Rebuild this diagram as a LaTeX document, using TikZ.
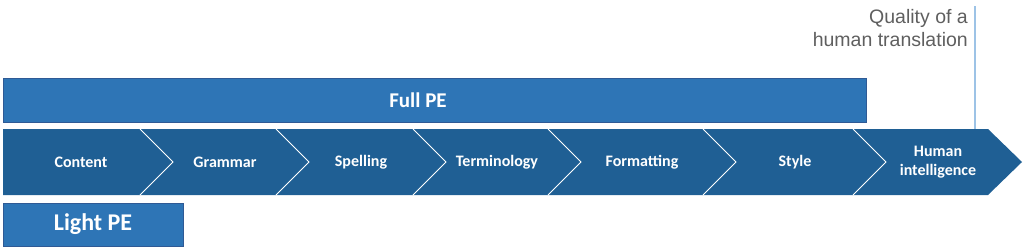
\documentclass[tikz,border=0pt]{standalone}
\usepackage{fontspec}
\setmainfont{Carlito}
\newfontfamily\arialfont{Liberation Sans}
\definecolor{fullblue}{HTML}{2E75B6}
\definecolor{edgeblue}{HTML}{2F5A95}
\definecolor{stepblue}{HTML}{1F5F94}
\definecolor{lineblue}{HTML}{9DC3E6}
\definecolor{greytext}{HTML}{5F5F5F}
\begin{document}
\begin{tikzpicture}[x=1pt,y=-1pt,every node/.style={inner sep=1.5pt},
    bar/.style={draw=edgeblue,fill=fullblue,line width=1pt},
    barlabel/.style={text=white,font=\fontsize{#1}{#1}\selectfont\bfseries},
    steplabel/.style={text=white,align=center,font=\fontsize{16}{19}\selectfont\bfseries}]
      \useasboundingbox (0,0) rectangle (1030,250);
      \draw[bar] (3,78) rectangle (866,122);
      \node[barlabel=21] (full) at (418,100) {Full PE};
      \draw[bar] (3,203) rectangle (183,246);
      \node[barlabel=24] (light) at (93,224) {Light PE};
      \fill[stepblue] (3,129) -- (988,129) -- (1022,162) -- (988,195) -- (3,195) -- cycle;
      \foreach \b in {140,276,413,548,703,853} {\draw[white,line width=1pt] (\b,129) -- ++(33,33) -- ++(-33,33);}
      \foreach \x/\t [count=\i] in {81/Content,225/Grammar,361/Spelling,497/Terminology,642/Formatting,795/Style,938/Human\\intelligence}
        {\node[steplabel] (step\i) at (\x,162) {\t};}
      \coordinate (qtop) at (975,6);
      \coordinate (qbot) at (975,129);
      \draw[lineblue,line width=1.2pt] (qtop) -- (qbot);
      \node[anchor=north east,align=right,inner sep=0,text=greytext,font=\arialfont\fontsize{19.5}{23}\selectfont] (quality) at (968,9) {Quality of a\\human translation};
    \end{tikzpicture}
\end{document}
